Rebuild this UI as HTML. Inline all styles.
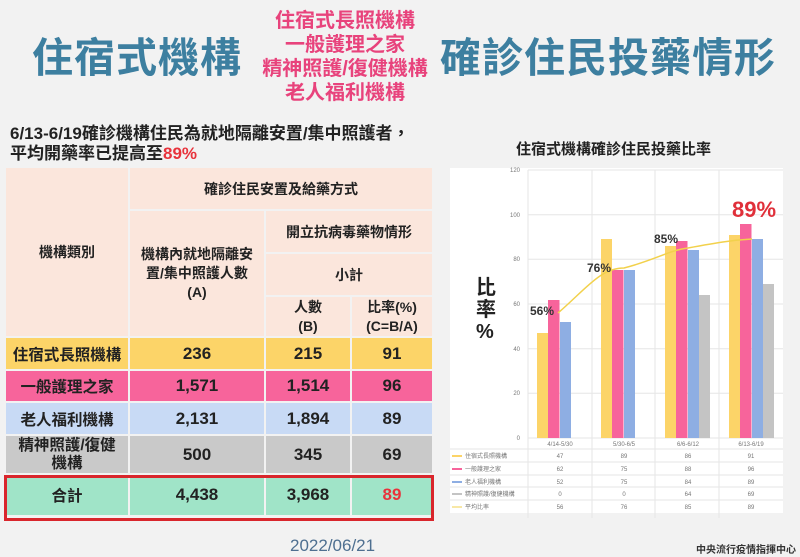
<!DOCTYPE html>
<html><head><meta charset="utf-8"><style>
body{margin:0;width:800px;height:557px;background:#f2f2f2;position:relative;overflow:hidden;font-family:"Liberation Sans","Noto Sans CJK TC",sans-serif;font-weight:bold}
.a{position:absolute;white-space:nowrap}
.t{color:#3d7fa0;font-size:41px;top:24px;letter-spacing:1px}
.p{color:#e8437c;font-size:20px;line-height:24px;text-align:center;left:255px;width:180px;top:9px}
td{border:2px solid #f2f2f2;text-align:center;padding:0;color:#222}
table{border-collapse:collapse;position:absolute;left:4px;top:166px;width:430px;font-size:15px}
.h td{background:#fbe6dc;font-size:14px}
.d td{font-size:17px}
.d td:first-child{font-size:15.5px}
</style></head><body>
<div class="a t" style="left:32px">住宿式機構</div>
<div class="a p">住宿式長照機構<br>一般護理之家<br>精神照護/復健機構<br>老人福利機構</div>
<div class="a t" style="left:440px">確診住民投藥情形</div>
<div class="a" style="left:10px;top:124px;font-size:17px;line-height:20px;color:#222">6/13-6/19確診機構住民為就地隔離安置/集中照護者，<br>平均開藥率已提高至<span style="color:#e8333c">89%</span></div>
<div class="a" style="left:516px;top:138px;font-size:15px;color:#222">住宿式機構確診住民投藥比率</div>
<table>
<tr class="h" style="height:43px"><td rowspan="4" style="width:122px">機構類別</td><td colspan="3">確診住民安置及給藥方式</td></tr>
<tr class="h" style="height:43px"><td rowspan="3" style="width:134px;line-height:19px">機構內就地隔離安<br>置/集中照護人數<br>(A)</td><td colspan="2">開立抗病毒藥物情形</td></tr>
<tr class="h" style="height:43px"><td colspan="2">小計</td></tr>
<tr class="h" style="height:41px;line-height:19px"><td style="width:84px">人數<br>(B)</td><td>比率(%)<br>(C=B/A)</td></tr>
<tr class="d" style="height:33px;background:#fcd468"><td>住宿式長照機構</td><td>236</td><td>215</td><td>91</td></tr>
<tr class="d" style="height:32px;background:#f7649b"><td>一般護理之家</td><td>1,571</td><td>1,514</td><td>96</td></tr>
<tr class="d" style="height:33px;background:#c8daf5"><td>老人福利機構</td><td>2,131</td><td>1,894</td><td>89</td></tr>
<tr class="d" style="height:39px;background:#c9c9c9"><td style="line-height:18px">精神照護/復健<br>機構</td><td>500</td><td>345</td><td>69</td></tr>
<tr class="d" style="height:42px;background:#a0e4c8"><td>合計</td><td>4,438</td><td>3,968</td><td style="color:#e8333c">89</td></tr>
</table>
<div class="a" style="left:4px;top:475px;width:424px;height:40px;border:3px solid #d9262c"></div>
<div class="a" style="left:450px;top:168px;width:333px;height:345px;background:#fff"></div>
<svg class="a" style="left:0;top:0" width="800" height="557" font-family="Liberation Sans" font-weight="normal">
<g stroke="#e6e6e6" stroke-width="1">
<line x1="528" y1="170" x2="783" y2="170"/><line x1="528" y1="214.7" x2="783" y2="214.7"/><line x1="528" y1="259.3" x2="783" y2="259.3"/><line x1="528" y1="304" x2="783" y2="304"/><line x1="528" y1="348.7" x2="783" y2="348.7"/><line x1="528" y1="393.3" x2="783" y2="393.3"/><line x1="528" y1="438" x2="783" y2="438"/>
<line x1="528" y1="170" x2="528" y2="518"/><line x1="592" y1="170" x2="592" y2="518"/><line x1="655" y1="170" x2="655" y2="518"/><line x1="719" y1="170" x2="719" y2="518"/>
<line x1="450" y1="449" x2="783" y2="449"/><line x1="450" y1="462" x2="783" y2="462"/><line x1="450" y1="475" x2="783" y2="475"/><line x1="450" y1="487" x2="783" y2="487"/><line x1="450" y1="500" x2="783" y2="500"/>
</g>
<g font-size="6" fill="#777" text-anchor="end">
<text x="520" y="172">120</text><text x="520" y="217">100</text><text x="520" y="261">80</text><text x="520" y="306">60</text><text x="520" y="351">40</text><text x="520" y="395">20</text><text x="520" y="440">0</text></g>
<g fill="#fcd468"><rect x="537" y="333" width="11" height="105"/><rect x="601" y="239" width="11" height="199"/><rect x="665" y="246" width="11" height="192"/><rect x="729" y="235" width="11" height="203"/></g>
<g fill="#f7649b"><rect x="548" y="300" width="11.5" height="138"/><rect x="612" y="270" width="11.5" height="168"/><rect x="676" y="241" width="11.5" height="197"/><rect x="740" y="224" width="11.5" height="214"/></g>
<g fill="#8eaee3"><rect x="560" y="322" width="11" height="116"/><rect x="624" y="270" width="11" height="168"/><rect x="688" y="250" width="11" height="188"/><rect x="752" y="239" width="11" height="199"/></g>
<g fill="#c4c4c4"><rect x="699" y="295" width="11" height="143"/><rect x="763" y="284" width="11" height="154"/></g>
<path d="M558,313 C585,290 600,268 624,268 C655,260 670,250 688,248 C720,242 735,240 752,239" fill="none" stroke="#f2d14c" stroke-width="1.5"/>
<g font-size="12" font-weight="bold" fill="#333"><text x="530" y="315">56%</text><text x="587" y="272">76%</text><text x="654" y="243">85%</text></g>
<text x="732" y="217" font-size="22" font-weight="bold" fill="#e0303a">89%</text>
<text x="476" y="294" font-size="20" font-weight="bold" fill="#222" font-family="Liberation Sans,Noto Sans CJK TC">比</text>
<text x="476" y="316" font-size="20" font-weight="bold" fill="#222" font-family="Liberation Sans,Noto Sans CJK TC">率</text>
<text x="476" y="338" font-size="20" font-weight="bold" fill="#222">%</text>
<g font-size="6" fill="#777" text-anchor="middle"><text x="560" y="446">4/14-5/30</text><text x="624" y="446">5/30-6/5</text><text x="688" y="446">6/6-6/12</text><text x="751" y="446">6/13-6/19</text>
<text x="560" y="458">47</text><text x="624" y="458">89</text><text x="688" y="458">86</text><text x="751" y="458">91</text>
<text x="560" y="471">62</text><text x="624" y="471">75</text><text x="688" y="471">88</text><text x="751" y="471">96</text>
<text x="560" y="484">52</text><text x="624" y="484">75</text><text x="688" y="484">84</text><text x="751" y="484">89</text>
<text x="560" y="496">0</text><text x="624" y="496">0</text><text x="688" y="496">64</text><text x="751" y="496">69</text>
<text x="560" y="509">56</text><text x="624" y="509">76</text><text x="688" y="509">85</text><text x="751" y="509">89</text></g>
<g stroke-width="2"><line x1="452" y1="456" x2="462" y2="456" stroke="#fcd468"/><line x1="452" y1="469" x2="462" y2="469" stroke="#f7649b"/><line x1="452" y1="482" x2="462" y2="482" stroke="#8eaee3"/><line x1="452" y1="494" x2="462" y2="494" stroke="#c4c4c4"/><line x1="452" y1="507" x2="462" y2="507" stroke="#f2d14c" stroke-width="1"/></g>
<g font-size="6" fill="#777" font-family="Liberation Sans,Noto Sans CJK TC"><text x="465" y="458">住宿式長照機構</text><text x="465" y="471">一般護理之家</text><text x="465" y="484">老人福利機構</text><text x="465" y="496">精神照護/復健機構</text><text x="465" y="509">平均比率</text></g>
</svg>
<div class="a" style="left:290px;top:536px;font-size:17px;color:#4e6f90;font-weight:normal">2022/06/21</div>
<div class="a" style="left:696px;top:541px;font-size:10px;color:#333">中央流行疫情指揮中心</div>
</body></html>
